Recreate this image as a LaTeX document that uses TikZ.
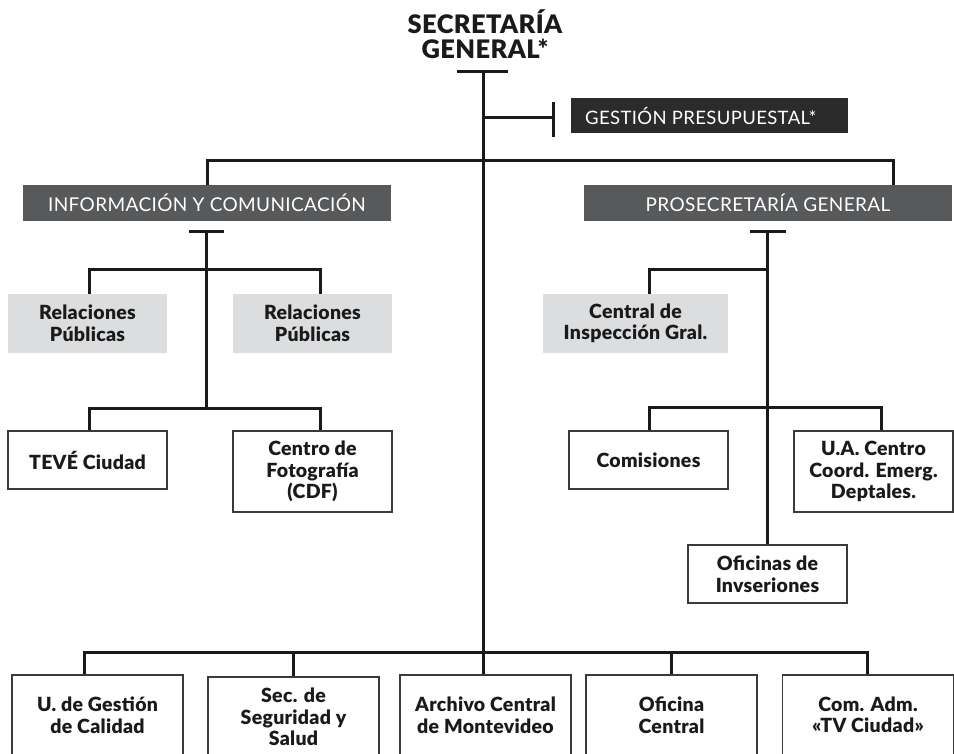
\documentclass[tikz,border=0pt]{standalone}
\usepackage{fontspec}
\setmainfont{Lato}[BoldFont={Lato Black}]
\definecolor{hdr}{HTML}{58595B}
\definecolor{hdrdark}{HTML}{2B2B2B}
\definecolor{lite}{HTML}{DCDDDF}
\definecolor{ink}{HTML}{1A1A1A}
\definecolor{edge}{HTML}{3A3A3A}
\newcommand{\boxfont}{\bfseries\fontsize{19.5}{21.5}\selectfont\addfontfeature{LetterSpace=1.5}}
\newcommand{\hdrfont}{\fontsize{19}{20}\selectfont\addfontfeature{LetterSpace=2}}
\tikzset{
  conn/.style={line width=3pt, draw=ink},
  hbox/.style={fill=hdr, text=white, inner sep=0pt, font=\hdrfont},
  gbox/.style={fill=lite, text=ink, inner sep=0pt, align=center, font=\boxfont},
  wbox/.style={draw=edge, line width=1.8pt, fill=white, text=ink, inner sep=0pt, align=center, font=\boxfont},
}
\begin{document}
\begin{tikzpicture}[x=1pt,y=-1pt]
\useasboundingbox (0,0) rectangle (954,754);
% title
\node[align=center, text=ink, inner sep=0pt, font=\bfseries\fontsize{25.5}{25}\selectfont\addfontfeature{LetterSpace=1.5}] (title) at (485,34) {SECRETARÍA\\GENERAL*};
% header boxes
\node[hbox, fill=hdrdark, minimum width=277pt, minimum height=35pt] (gest) at (709.5,115.5) {};
\node[anchor=west, text=white, inner sep=0pt, font=\fontsize{18.5}{20}\selectfont\addfontfeature{LetterSpace=2}] (gesttxt) at (585,116) {GESTIÓN PRESUPUESTAL*};
\node[hbox, minimum width=368pt, minimum height=36pt] (info) at (207,203) {INFORMACIÓN Y COMUNICACIÓN};
\node[hbox, minimum width=368pt, minimum height=36pt] (prosec) at (768,203) {PROSECRETARÍA GENERAL};
% grey boxes
\node[gbox, minimum width=159pt, minimum height=59pt] (rp1) at (87.5,323.5) {Relaciones\\Públicas};
\node[gbox, minimum width=159pt, minimum height=59pt] (rp2) at (312.5,323.5) {Relaciones\\Públicas};
\node[gbox, minimum width=185pt, minimum height=59pt] (cig) at (635.5,323.5) {Central de\\Inspección Gral.};
% white boxes, middle
\node[wbox, minimum width=159pt, minimum height=58pt] (teve) at (87.5,460) {TEVÉ Ciudad};
\node[wbox, minimum width=159pt, minimum height=81pt] (cdf) at (312.5,471.5) {Centro de\\Fotografía\\(CDF)};
\node[wbox, minimum width=159pt, minimum height=58pt] (comi) at (648.5,460) {Comisiones};
\node[wbox, minimum width=159pt, minimum height=81pt] (ua) at (873.5,471.5) {U.A. Centro\\Coord. Emerg.\\Deptales.};
\node[wbox, minimum width=159pt, minimum height=58pt] (ofinv) at (767.5,574) {Oficinas de\\Invseriones};
% bottom boxes
\node[wbox, minimum width=171pt, minimum height=80pt] (ugc) at (97.5,715) {U. de Gestión\\de Calidad};
\node[wbox, minimum width=171pt, minimum height=80pt] (sec) at (293.5,717) {Sec. de\\Seguridad y\\Salud};
\node[wbox, minimum width=171pt, minimum height=80pt] (arch) at (485.5,715) {Archivo Central\\de Montevideo};
\node[wbox, minimum width=171pt, minimum height=80pt] (ofc) at (671.5,715) {Oficina\\Central};
\node[wbox, minimum width=171pt, minimum height=80pt] (cadm) at (868,715) {Com. Adm.\\«TV Ciudad»};
% coordinates
\coordinate (t0) at (483,72);
\coordinate (g0) at (483,118);
\coordinate (g1) at (553,118);
\coordinate (bR) at (893,161);
\coordinate (b0) at (483,652);
\coordinate (iT) at (206,232);
\coordinate (i2) at (206,270);
\coordinate (i3) at (206,408);
\coordinate (pT) at (767,232);
\coordinate (p2) at (767,270);
\coordinate (p3) at (767,407);
% connectors
\draw[conn] ([xshift=-26pt]t0) -- ([xshift=25pt]t0);
\draw[conn] (t0) -- (b0);
\draw[conn] (g0) -- (g1);
\draw[conn] ([yshift=-19pt]g1) -- ([yshift=16pt]g1);
\draw[conn] (info.north) |- (bR) -- (bR |- prosec.north);
% left branch
\draw[conn] ([xshift=-17pt]iT) -- ([xshift=18pt]iT);
\draw[conn] (iT) -- (i3);
\draw[conn] ([xshift=1.5pt]rp1.north) |- (i2) -| ([xshift=7.5pt]rp2.north);
\draw[conn] ([xshift=1.5pt]teve.north) |- (i3) -| ([xshift=7.5pt]cdf.north);
% right branch
\draw[conn] ([xshift=-17pt]pT) -- ([xshift=19pt]pT);
\draw[conn] (pT) -- (pT |- ofinv.north);
\draw[conn] ([xshift=13.5pt]cig.north) |- (p2);
\draw[conn] ([xshift=0.5pt]comi.north) |- (p3) -| ([xshift=7.5pt]ua.north);
% bottom bus
\draw[conn] ([xshift=-13.5pt]ugc.north) |- (b0) -| ([xshift=-1pt]cadm.north);
\draw[conn] (sec.north) -- (sec.north |- b0);
\draw[conn] ([xshift=-2.5pt]arch.north) -- ([xshift=-2.5pt]arch.north |- b0);
\draw[conn] (ofc.north) -- (ofc.north |- b0);
\end{tikzpicture}
\end{document}
